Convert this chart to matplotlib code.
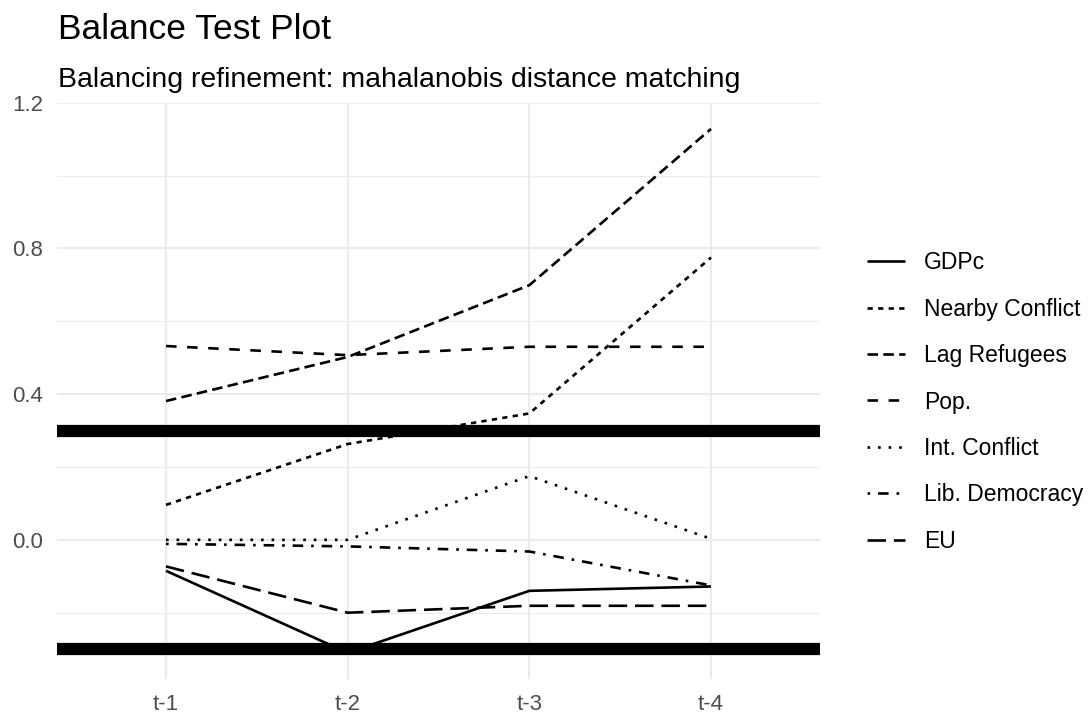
import matplotlib
matplotlib.use("Agg")
import matplotlib.pyplot as plt

plt.rcParams["font.family"] = ["Liberation Sans", "DejaVu Sans"]

# ── data ────────────────────────────────────────────
lags = ["t-1", "t-2", "t-3", "t-4"]
series = ["GDPc", "Nearby Conflict", "Lag Refugees", "Pop.",
          "Int. Conflict", "Lib. Democracy", "EU"]
gdpc = [-0.085, -0.31, -0.14, -0.128]
nearby_conflict = [0.096, 0.263, 0.347, 0.775]
lag_refugees = [0.381, 0.502, 0.699, 1.128]
pop = [0.532, 0.507, 0.530, 0.530]
int_conflict = [0.0, 0.0, 0.175, 0.003]
lib_democracy = [-0.011, -0.018, -0.032, -0.125]
eu = [-0.073, -0.200, -0.181, -0.181]
thresholds = [0.3, -0.3]

values = [gdpc, nearby_conflict, lag_refugees, pop,
          int_conflict, lib_democracy, eu]
# ggplot default linetype order: solid, 22, 42, 44, 13, 1343, 73
dashes = [None, (2, 2), (4, 2), (4, 4), (1, 3), (1, 3, 4, 3), (7, 3)]

W, H = 1091, 715
fig = plt.figure(figsize=(W / 100, H / 100), dpi=100)
ax = fig.add_axes([57 / W, 36 / H, (820 - 57) / W, (679 - 102.7) / H])

x = list(range(len(lags)))
handles = []
for name, vals, d in zip(series, values, dashes):
    ln, = ax.plot(x, vals, color="black", lw=1.9, label=name,
                  solid_capstyle="butt", dash_capstyle="butt")
    if d is not None:
        ln.set_dashes(d)
    handles.append(ln)

for t in thresholds:
    ax.axhline(t, color="black", lw=8.8, zorder=1)

ax.set_xlim(-0.6, len(lags) - 1 + 0.6)
ax.set_ylim(-0.382, 1.2)
ax.set_xticks(x)
ax.set_xticklabels(lags)
ax.set_yticks([0.0, 0.4, 0.8, 1.2])
ax.set_yticklabels(["0.0", "0.4", "0.8", "1.2"])
ax.set_yticks([-0.2, 0.2, 0.6, 1.0], minor=True)

for s in ax.spines.values():
    s.set_visible(False)
ax.tick_params(which="both", length=0, labelsize=16, colors="#4D4D4D")
ax.tick_params(axis="y", pad=10)
ax.tick_params(axis="x", pad=11)
ax.grid(which="major", color="#EBEBEB", lw=1.5)
ax.grid(which="minor", axis="y", color="#EBEBEB", lw=0.8)
ax.set_axisbelow(True)

fig.text(58 / W, 1 - 39 / H, "Balance Test Plot", fontsize=25.5,
         va="baseline", ha="left")
fig.text(58 / W, 1 - 87 / H, "Balancing refinement: mahalanobis distance matching",
         fontsize=20.5, va="baseline", ha="left")

fig.legend(handles=handles, labels=series, loc="center left",
           bbox_to_anchor=(867 / W, 1 - 402 / H), frameon=False,
           fontsize=16.5, handlelength=1.65, handletextpad=0.85,
           labelspacing=1.02, borderpad=0, borderaxespad=0)

fig.savefig("out.png", dpi=100)
